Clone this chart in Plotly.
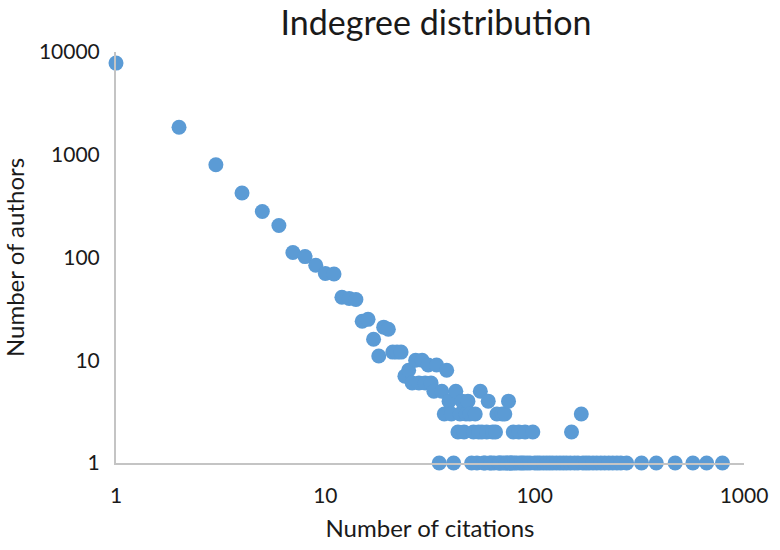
import plotly.graph_objects as go

# Indegree distribution: number of citations received vs number of authors
citations = [
    1, 2, 3, 4, 5, 6, 7, 8, 9, 10,
    11, 12, 13, 14, 15, 16, 17, 18, 19, 20,
    21, 22, 23, 24, 25, 26, 27, 28, 29, 30,
    31, 32, 33, 34, 35, 36, 37, 38, 39, 40,
    41, 42, 43, 44, 45, 46, 47, 48, 49, 50,
    51, 52, 53, 54, 55, 56, 57, 58, 59, 60,
    61, 62, 63, 64, 65, 66, 67, 68, 69, 70,
    71, 72, 73, 74, 75, 76, 77, 78, 79, 80,
    82, 84, 85, 87, 89, 90, 92, 95, 98, 100,
    103, 106, 110, 114, 118, 122, 127, 132, 137, 142,
    148, 150, 155, 161, 167, 170, 176, 182, 190, 198,
    207, 216, 226, 236, 247, 258, 275, 324, 381, 469,
    570, 663, 789,
]
authors = [
    7800, 1850, 800, 425, 280, 205, 112, 102, 84, 70,
    69, 41, 40, 39, 24, 25, 16, 11, 21, 20,
    12, 12, 12, 7, 8, 6, 10, 6, 10, 6,
    9, 6, 5, 9, 1, 5, 3, 8, 4, 3,
    1, 5, 2, 3, 4, 2, 3, 4, 3, 1,
    2, 3, 1, 2, 5, 2, 1, 1, 2, 4,
    1, 1, 2, 1, 2, 3, 1, 1, 1, 3,
    1, 3, 1, 1, 4, 1, 1, 1, 2, 1,
    1, 2, 1, 1, 1, 2, 1, 1, 2, 1,
    1, 1, 1, 1, 1, 1, 1, 1, 1, 1,
    1, 2, 1, 1, 3, 1, 1, 1, 1, 1,
    1, 1, 1, 1, 1, 1, 1, 1, 1, 1,
    1, 1, 1,
]

x_ticks = [1, 10, 100, 1000]
y_ticks = [1, 10, 100, 1000, 10000]

FONT = "Lato, 'Open Sans', sans-serif"
MARKER = "#5b9bd5"
AXIS = "#c4c4c4"
TEXT = "#1a1a1a"

fig = go.Figure(
    go.Scatter(
        x=citations,
        y=authors,
        mode="markers",
        marker=dict(color=MARKER, size=15, line=dict(width=0)),
        cliponaxis=False,
        hoverinfo="x+y",
    )
)

fig.update_layout(
    width=780,
    height=550,
    margin=dict(l=115, r=28, t=52, b=84),
    paper_bgcolor="white",
    plot_bgcolor="white",
    showlegend=False,
    font=dict(family=FONT, color=TEXT, size=21),
    title=dict(
        text="Indegree distribution",
        x=0.559,
        xanchor="center",
        y=1 - 23 / 550,
        yanchor="middle",
        yref="container",
        font=dict(family=FONT, size=34, color=TEXT),
    ),
)

fig.update_xaxes(
    type="log",
    range=[0, 3],
    tickvals=x_ticks,
    ticktext=[str(v) for v in x_ticks],
    showgrid=False,
    zeroline=False,
    showline=True,
    linecolor=AXIS,
    linewidth=2,
    ticks="",
    ticklabelstandoff=13,
    tickfont=dict(size=21),
    title=dict(text="Number of citations", font=dict(size=24), standoff=14),
)

fig.update_yaxes(
    type="log",
    range=[0, 4],
    tickvals=y_ticks,
    ticktext=[str(v) for v in y_ticks],
    showgrid=False,
    zeroline=False,
    showline=True,
    linecolor=AXIS,
    linewidth=2,
    ticks="",
    ticklabelstandoff=10,
    tickfont=dict(size=21),
    title=dict(text="Number of authors", font=dict(size=24), standoff=10),
)

fig.write_html("out.html")
